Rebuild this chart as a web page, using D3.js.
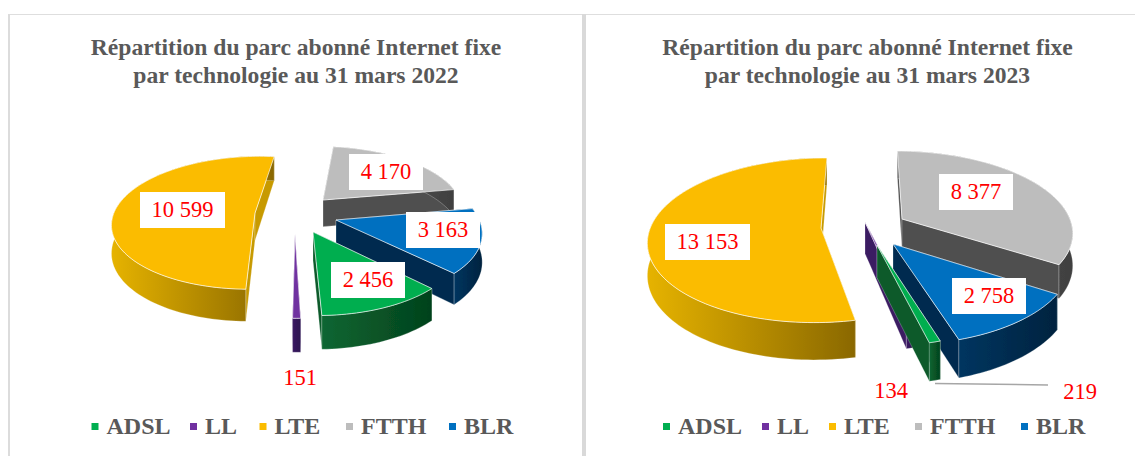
<!DOCTYPE html>
<html><head><meta charset="utf-8">
<script src="https://cdnjs.cloudflare.com/ajax/libs/d3/7.8.5/d3.min.js"></script>
<style>html,body{margin:0;padding:0;background:#fff}svg{display:block}</style></head>
<body><svg id="c" width="1135" height="456"></svg>
<script>
const categories = ["ADSL","LL","LTE","FTTH","BLR"];
const values2022 = [2456,151,10599,4170,3163];
const values2023 = [219,134,13153,8377,2758];
const valueLabels2022 = ["2 456","151","10 599","4 170","3 163"];
const valueLabels2023 = ["219","134","13 153","8 377","2 758"];
const titles2022 = ["Répartition du parc abonné Internet fixe","par technologie au 31 mars 2022"];
const titles2023 = ["Répartition du parc abonné Internet fixe","par technologie au 31 mars 2023"];
const topColors = ["#00ae50","#7030a0","#fbbc00","#bdbdbd","#0070c0"];
const wallColors = ["#0a5a2a","#3a1a62","#c79a00","#505050","#002c50"];
const gradFrom = ["#0d6632","#3a1a62","#e6b300","#5c5c5c","#003560"];
const gradTo = ["#03421c","#2c1450","#8a6800","#404040","#00233f"];

const panels = [
 {id:"a", values:values2022, labels:valueLabels2022, titles:titles2022, cx:290, cy:222, R:144, k:0.47, p:0.15, depth:28,
  start:135.4, order:[2,3,4,1,0],
  apex:[[313,232],[295,234],[255,213],[323,200],[336,220]],
  labelPos:[[368,280,74,36,true],[300,378,0,0,false],[182.5,210,85,36,true],[386,172,74,36,true],[443,230,74,36,true]],
  titleX:296, legendX:[91.5,190,259.5,346,449]},
 {id:"b", values:values2023, labels:valueLabels2023, titles:titles2023, cx:860, cy:232, R:172, k:0.475, p:0.15, depth:32,
  start:163, order:[3,2,4,1,0],
  apex:[[877,245],[865,222],[821,228],[902,219],[893,244]],
  labelPos:[[1080,392,0,0,false],[891,391,0,0,false],[707.5,242,85,36,true],[976,192,74,36,true],[989,296,74,36,true]],
  titleX:867.5, legendX:[663,762,829,915,1021]}
];

const svg = d3.select("#c");
svg.append("rect").attr("width",1135).attr("height",456).attr("fill","#fff");
const defs = svg.append("defs");
defs.append("filter").attr("id","soft").append("feGaussianBlur").attr("stdDeviation",0.45);
svg.append("line").attr("x1",8).attr("x2",1135).attr("y1",14.5).attr("y2",14.5).attr("stroke","#dedede").attr("stroke-width",1);
svg.append("line").attr("x1",9).attr("x2",9).attr("y1",14).attr("y2",456).attr("stroke","#dcdcdc").attr("stroke-width",2);
svg.append("line").attr("x1",584).attr("x2",584).attr("y1",14).attr("y2",456).attr("stroke","#d9d9d9").attr("stroke-width",4);

const line = d3.line();
panels.forEach(P=>{
  const g = svg.append("g");
  const pie = g.append("g").attr("filter","url(#soft)");
  const f = Y=>1/(1-P.p*Y/P.R);
  const project = (X,Y,z=0)=>{const ff=f(Y);return [P.cx+X*ff, P.cy+Y*P.k*ff+z*ff*P.depth];};
  const unproject = ([sx,sy])=>{const s=sy-P.cy;const Y=s/(P.k+P.p*s/P.R);return [(sx-P.cx)*(1-P.p*Y/P.R),Y];};
  const arcs = d3.pie().sort(null).startAngle(P.start*Math.PI/180).endAngle((P.start+360)*Math.PI/180)(P.values);
  const slices = arcs.map((a,i)=>{
    const [ox,oy]=unproject(P.apex[i]);
    const n=Math.max(2,Math.ceil((a.endAngle-a.startAngle)/0.03));
    const angs=d3.range(n+1).map(j=>a.startAngle+(a.endAngle-a.startAngle)*j/n);
    const rim=angs.map(t=>[ox+P.R*Math.sin(t),oy-P.R*Math.cos(t)]);
    return {i,o:[ox,oy],rim};
  });
  slices.forEach(s=>{
    const xs=s.rim.map(q=>project(q[0],q[1])[0]);
    const gr=defs.append("linearGradient").attr("id",`g${P.id}${s.i}`).attr("gradientUnits","userSpaceOnUse")
      .attr("x1",d3.min(xs)).attr("x2",d3.max(xs)).attr("y1",0).attr("y2",0);
    gr.append("stop").attr("offset",0).attr("stop-color",gradFrom[s.i]);
    gr.append("stop").attr("offset",1).attr("stop-color",gradTo[s.i]);
  });
  P.order.forEach(i=>{
    const s=slices[i];
    const sl=pie.append("g");
    const first=s.rim[0], last=s.rim[s.rim.length-1];
    [first,last].forEach(e=>{
      const quad=[project(s.o[0],s.o[1]),project(e[0],e[1]),project(e[0],e[1],1),project(s.o[0],s.o[1],1)];
      sl.append("path").attr("d",line(quad)+"Z").attr("fill",wallColors[i])
        .attr("stroke","rgba(255,255,255,.35)").attr("stroke-width",.7);
    });
    const wall=[...s.rim.map(q=>project(q[0],q[1])),...s.rim.slice().reverse().map(q=>project(q[0],q[1],1))];
    sl.append("path").attr("d",line(wall)+"Z").attr("fill",`url(#g${P.id}${i})`)
      .attr("stroke","rgba(255,255,255,.35)").attr("stroke-width",.7);
    const top=[project(s.o[0],s.o[1]),...s.rim.map(q=>project(q[0],q[1]))];
    sl.append("path").attr("d",line(top)+"Z").attr("fill",topColors[i])
      .attr("stroke","rgba(255,255,255,.65)").attr("stroke-width",1).attr("stroke-linejoin","round");
  });
  if(P.id==="b"){
    g.append("path").attr("d",line([[935,383.5],[1048,385]])).attr("stroke","#a6a6a6").attr("stroke-width",1.5).attr("fill","none");
  }
  P.labels.forEach((t,i)=>{
    const [x,y,w,h,box]=P.labelPos[i];
    if(box) g.append("rect").attr("x",x-w/2).attr("y",y-h/2).attr("width",w).attr("height",h).attr("fill","#fff");
    g.append("text").attr("x",x).attr("y",y+7).attr("text-anchor","middle")
      .attr("font-family","'Liberation Serif',serif").attr("font-size",22.5).attr("fill","#ff0000").text(t);
  });
  P.titles.forEach((t,i)=>{
    g.append("text").attr("x",P.titleX).attr("y",55+i*27.5).attr("text-anchor","middle")
      .attr("font-family","'Liberation Serif',serif").attr("font-weight","bold").attr("font-size",23.6).attr("fill","#595959").text(t);
  });
  categories.forEach((c,i)=>{
    const x=P.legendX[i];
    g.append("rect").attr("x",x).attr("y",423).attr("width",7).attr("height",7).attr("fill",topColors[i]);
    g.append("text").attr("x",x+15).attr("y",434).attr("font-family","'Liberation Serif',serif").attr("font-weight","bold")
      .attr("font-size",24).attr("fill","#595959").text(c);
  });
});
</script></body></html>
